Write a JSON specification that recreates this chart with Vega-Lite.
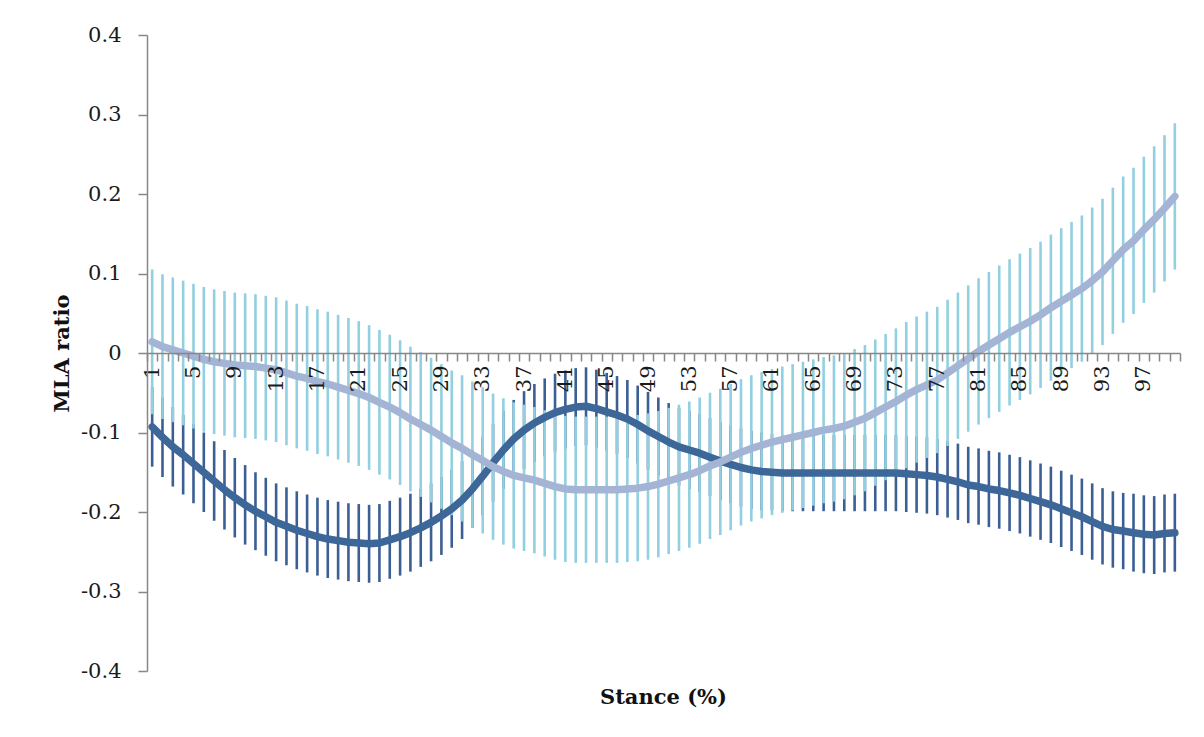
{
  "$schema": "https://vega.github.io/schema/vega-lite/v6.json",
  "width": 1033,
  "height": 636,
  "autosize": "none",
  "padding": {"left": 147, "top": 35, "right": 24, "bottom": 66},
  "background": "white",
  "config": {"view": {"stroke": null}, "font": "DejaVu Serif"},
  "datasets": {
    "dark": [
      {"k":1,"m":-0.093,"e":0.05},{"k":2,"m":-0.106,"e":0.05},{"k":3,"m":-0.118,"e":0.05},{"k":4,"m":-0.128,"e":0.05},{"k":5,"m":-0.139,"e":0.05},
      {"k":6,"m":-0.150,"e":0.05},{"k":7,"m":-0.161,"e":0.05},{"k":8,"m":-0.172,"e":0.05},{"k":9,"m":-0.182,"e":0.05},{"k":10,"m":-0.191,"e":0.05},
      {"k":11,"m":-0.199,"e":0.049},{"k":12,"m":-0.206,"e":0.049},{"k":13,"m":-0.213,"e":0.049},{"k":14,"m":-0.218,"e":0.049},{"k":15,"m":-0.223,"e":0.049},
      {"k":16,"m":-0.227,"e":0.049},{"k":17,"m":-0.231,"e":0.049},{"k":18,"m":-0.234,"e":0.049},{"k":19,"m":-0.236,"e":0.049},{"k":20,"m":-0.238,"e":0.049},
      {"k":21,"m":-0.239,"e":0.049},{"k":22,"m":-0.240,"e":0.049},{"k":23,"m":-0.239,"e":0.049},{"k":24,"m":-0.235,"e":0.049},{"k":25,"m":-0.231,"e":0.049},
      {"k":26,"m":-0.226,"e":0.049},{"k":27,"m":-0.220,"e":0.049},{"k":28,"m":-0.213,"e":0.049},{"k":29,"m":-0.205,"e":0.049},{"k":30,"m":-0.196,"e":0.049},
      {"k":31,"m":-0.185,"e":0.049},{"k":32,"m":-0.171,"e":0.049},{"k":33,"m":-0.155,"e":0.049},{"k":34,"m":-0.138,"e":0.049},{"k":35,"m":-0.122,"e":0.049},
      {"k":36,"m":-0.108,"e":0.049},{"k":37,"m":-0.097,"e":0.049},{"k":38,"m":-0.088,"e":0.049},{"k":39,"m":-0.081,"e":0.049},{"k":40,"m":-0.075,"e":0.049},
      {"k":41,"m":-0.071,"e":0.049},{"k":42,"m":-0.068,"e":0.049},{"k":43,"m":-0.067,"e":0.049},{"k":44,"m":-0.070,"e":0.049},{"k":45,"m":-0.074,"e":0.049},
      {"k":46,"m":-0.078,"e":0.049},{"k":47,"m":-0.083,"e":0.049},{"k":48,"m":-0.090,"e":0.049},{"k":49,"m":-0.098,"e":0.049},{"k":50,"m":-0.105,"e":0.049},
      {"k":51,"m":-0.112,"e":0.049},{"k":52,"m":-0.118,"e":0.049},{"k":53,"m":-0.122,"e":0.049},{"k":54,"m":-0.126,"e":0.049},{"k":55,"m":-0.131,"e":0.049},
      {"k":56,"m":-0.136,"e":0.049},{"k":57,"m":-0.140,"e":0.049},{"k":58,"m":-0.144,"e":0.049},{"k":59,"m":-0.147,"e":0.049},{"k":60,"m":-0.149,"e":0.049},
      {"k":61,"m":-0.150,"e":0.048},{"k":62,"m":-0.151,"e":0.048},{"k":63,"m":-0.151,"e":0.048},{"k":64,"m":-0.151,"e":0.048},{"k":65,"m":-0.151,"e":0.048},
      {"k":66,"m":-0.151,"e":0.048},{"k":67,"m":-0.151,"e":0.048},{"k":68,"m":-0.151,"e":0.048},{"k":69,"m":-0.151,"e":0.048},{"k":70,"m":-0.151,"e":0.048},
      {"k":71,"m":-0.151,"e":0.048},{"k":72,"m":-0.151,"e":0.048},{"k":73,"m":-0.151,"e":0.048},{"k":74,"m":-0.152,"e":0.048},{"k":75,"m":-0.153,"e":0.048},
      {"k":76,"m":-0.154,"e":0.048},{"k":77,"m":-0.156,"e":0.048},{"k":78,"m":-0.159,"e":0.048},{"k":79,"m":-0.162,"e":0.048},{"k":80,"m":-0.166,"e":0.048},
      {"k":81,"m":-0.168,"e":0.048},{"k":82,"m":-0.171,"e":0.048},{"k":83,"m":-0.173,"e":0.048},{"k":84,"m":-0.176,"e":0.048},{"k":85,"m":-0.179,"e":0.048},
      {"k":86,"m":-0.183,"e":0.048},{"k":87,"m":-0.187,"e":0.048},{"k":88,"m":-0.191,"e":0.048},{"k":89,"m":-0.196,"e":0.048},{"k":90,"m":-0.201,"e":0.048},
      {"k":91,"m":-0.206,"e":0.048},{"k":92,"m":-0.212,"e":0.048},{"k":93,"m":-0.218,"e":0.048},{"k":94,"m":-0.222,"e":0.048},{"k":95,"m":-0.224,"e":0.048},
      {"k":96,"m":-0.226,"e":0.049},{"k":97,"m":-0.228,"e":0.049},{"k":98,"m":-0.229,"e":0.049},{"k":99,"m":-0.227,"e":0.049},{"k":100,"m":-0.226,"e":0.049}
    ],
    "light": [
      {"k":1,"m":0.014,"e":0.091},{"k":2,"m":0.008,"e":0.091},{"k":3,"m":0.004,"e":0.091},{"k":4,"m":0.000,"e":0.091},{"k":5,"m":-0.004,"e":0.091},
      {"k":6,"m":-0.008,"e":0.091},{"k":7,"m":-0.011,"e":0.091},{"k":8,"m":-0.013,"e":0.091},{"k":9,"m":-0.015,"e":0.091},{"k":10,"m":-0.016,"e":0.091},
      {"k":11,"m":-0.017,"e":0.091},{"k":12,"m":-0.019,"e":0.091},{"k":13,"m":-0.021,"e":0.091},{"k":14,"m":-0.025,"e":0.091},{"k":15,"m":-0.029,"e":0.091},
      {"k":16,"m":-0.032,"e":0.091},{"k":17,"m":-0.036,"e":0.091},{"k":18,"m":-0.039,"e":0.091},{"k":19,"m":-0.043,"e":0.091},{"k":20,"m":-0.047,"e":0.091},
      {"k":21,"m":-0.051,"e":0.091},{"k":22,"m":-0.056,"e":0.091},{"k":23,"m":-0.062,"e":0.091},{"k":24,"m":-0.068,"e":0.091},{"k":25,"m":-0.075,"e":0.091},
      {"k":26,"m":-0.083,"e":0.091},{"k":27,"m":-0.090,"e":0.091},{"k":28,"m":-0.097,"e":0.091},{"k":29,"m":-0.105,"e":0.091},{"k":30,"m":-0.113,"e":0.091},
      {"k":31,"m":-0.120,"e":0.092},{"k":32,"m":-0.128,"e":0.092},{"k":33,"m":-0.135,"e":0.092},{"k":34,"m":-0.143,"e":0.092},{"k":35,"m":-0.149,"e":0.092},
      {"k":36,"m":-0.154,"e":0.092},{"k":37,"m":-0.157,"e":0.092},{"k":38,"m":-0.160,"e":0.092},{"k":39,"m":-0.164,"e":0.092},{"k":40,"m":-0.168,"e":0.092},
      {"k":41,"m":-0.171,"e":0.092},{"k":42,"m":-0.172,"e":0.092},{"k":43,"m":-0.172,"e":0.092},{"k":44,"m":-0.172,"e":0.092},{"k":45,"m":-0.172,"e":0.092},
      {"k":46,"m":-0.172,"e":0.092},{"k":47,"m":-0.171,"e":0.092},{"k":48,"m":-0.170,"e":0.092},{"k":49,"m":-0.168,"e":0.092},{"k":50,"m":-0.165,"e":0.092},
      {"k":51,"m":-0.161,"e":0.092},{"k":52,"m":-0.157,"e":0.092},{"k":53,"m":-0.153,"e":0.092},{"k":54,"m":-0.148,"e":0.092},{"k":55,"m":-0.142,"e":0.092},
      {"k":56,"m":-0.137,"e":0.092},{"k":57,"m":-0.131,"e":0.092},{"k":58,"m":-0.125,"e":0.092},{"k":59,"m":-0.120,"e":0.092},{"k":60,"m":-0.116,"e":0.092},
      {"k":61,"m":-0.112,"e":0.092},{"k":62,"m":-0.109,"e":0.092},{"k":63,"m":-0.106,"e":0.092},{"k":64,"m":-0.103,"e":0.092},{"k":65,"m":-0.100,"e":0.092},
      {"k":66,"m":-0.097,"e":0.092},{"k":67,"m":-0.095,"e":0.092},{"k":68,"m":-0.092,"e":0.092},{"k":69,"m":-0.087,"e":0.092},{"k":70,"m":-0.082,"e":0.092},
      {"k":71,"m":-0.075,"e":0.092},{"k":72,"m":-0.068,"e":0.092},{"k":73,"m":-0.061,"e":0.092},{"k":74,"m":-0.053,"e":0.092},{"k":75,"m":-0.046,"e":0.092},
      {"k":76,"m":-0.040,"e":0.092},{"k":77,"m":-0.034,"e":0.092},{"k":78,"m":-0.025,"e":0.092},{"k":79,"m":-0.016,"e":0.092},{"k":80,"m":-0.007,"e":0.092},
      {"k":81,"m":0.002,"e":0.092},{"k":82,"m":0.010,"e":0.092},{"k":83,"m":0.018,"e":0.092},{"k":84,"m":0.026,"e":0.092},{"k":85,"m":0.033,"e":0.092},
      {"k":86,"m":0.040,"e":0.092},{"k":87,"m":0.048,"e":0.092},{"k":88,"m":0.057,"e":0.092},{"k":89,"m":0.065,"e":0.092},{"k":90,"m":0.073,"e":0.092},
      {"k":91,"m":0.081,"e":0.092},{"k":92,"m":0.091,"e":0.092},{"k":93,"m":0.102,"e":0.092},{"k":94,"m":0.116,"e":0.092},{"k":95,"m":0.130,"e":0.092},
      {"k":96,"m":0.141,"e":0.092},{"k":97,"m":0.155,"e":0.092},{"k":98,"m":0.168,"e":0.092},{"k":99,"m":0.182,"e":0.092},{"k":100,"m":0.197,"e":0.092}
    ]
  },
  "encoding": {
    "x": {
      "field": "k",
      "type": "ordinal",
      "scale": {"type": "band", "paddingInner": 0, "paddingOuter": 0},
      "axis": {
        "orient": "bottom",
        "offset": -318,
        "zindex": 1,
        "tickBand": "extent",
        "grid": false,
        "labelAngle": 270,
        "labelExpr": "(datum.value - 1) % 4 === 0 ? datum.label : ''",
        "labelOverlap": false,
        "labelFont": "DejaVu Serif",
        "labelFontSize": 21,
        "labelColor": "#1a1a1a",
        "labelPadding": 4,
        "tickSize": 8,
        "tickColor": "#878787",
        "tickWidth": 1.5,
        "domainColor": "#878787",
        "domainWidth": 1.5,
        "title": "Stance (%)",
        "titleFont": "DejaVu Serif",
        "titleFontSize": 21,
        "titleFontWeight": "bold",
        "titleColor": "#111111",
        "titleX": 516,
        "titleY": 344,
        "titleAlign": "center",
        "titleBaseline": "middle"
      }
    },
    "y": {
      "field": "m",
      "type": "quantitative",
      "scale": {"domain": [-0.4, 0.4], "nice": false, "zero": false},
      "axis": {
        "values": [-0.4, -0.3, -0.2, -0.1, 0, 0.1, 0.2, 0.3, 0.4],
        "labelExpr": "toString(datum.value)",
        "zindex": 1,
        "grid": false,
        "labelFont": "DejaVu Serif",
        "labelFontSize": 21,
        "labelColor": "#1a1a1a",
        "labelPadding": 17,
        "tickSize": 9,
        "tickColor": "#878787",
        "tickWidth": 1.5,
        "domainColor": "#878787",
        "domainWidth": 1.5,
        "title": "MLA ratio",
        "titleFont": "DejaVu Serif",
        "titleFontSize": 21,
        "titleFontWeight": "bold",
        "titleColor": "#111111",
        "titleAngle": -90,
        "titleX": -85,
        "titleY": 318,
        "titleAlign": "center",
        "titleBaseline": "middle"
      }
    }
  },
  "layer": [
    {
      "data": {"name": "dark"},
      "mark": {"type": "errorbar", "ticks": false, "color": "#3B5E94", "rule": {"strokeWidth": 2.6}},
      "encoding": {"yError": {"field": "e"}}
    },
    {
      "data": {"name": "light"},
      "mark": {"type": "errorbar", "ticks": false, "color": "#92CFE0", "rule": {"strokeWidth": 2.6}},
      "encoding": {"yError": {"field": "e"}}
    },
    {
      "data": {"name": "dark"},
      "mark": {"type": "line", "color": "#3D6699", "strokeWidth": 7.5, "strokeCap": "round", "strokeJoin": "round"}
    },
    {
      "data": {"name": "light"},
      "mark": {"type": "line", "color": "#A4B4D5", "strokeWidth": 7.5, "strokeCap": "round", "strokeJoin": "round"}
    }
  ]
}
